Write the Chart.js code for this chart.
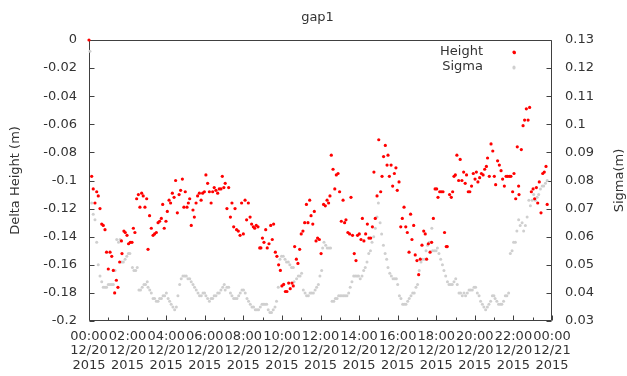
<!DOCTYPE html>
<html lang="en">
<head>
<meta charset="UTF-8">
<title>gap1</title>
<script src="https://cdn.jsdelivr.net/npm/chart.js"></script>
<style>
    html, body { margin: 0; padding: 0; background: #fff; }
    #wrap { width: 627px; height: 376px; }
</style>
</head>
<body>
<div id="wrap"><canvas id="gap1" width="627" height="376"></canvas></div>
<script>
// time of day in hours (12/20/2015), value in metres
var heightHours = [0,0.14,0.22,0.31,0.40,0.48,0.57,0.66,0.74,0.83,0.91,1.00,1.09,1.18,1.26,1.33,1.42,1.50,1.59,1.68,1.71,1.81,1.88,1.97,
    2.05,2.14,2.23,2.30,2.38,2.47,2.56,2.64,2.73,2.81,2.90,2.99,3.06,3.14,3.23,3.32,3.40,3.49,3.58,3.66,3.75,3.82,3.90,3.99,
    4.06,4.15,4.23,4.32,4.41,4.49,4.58,4.67,4.75,4.84,4.92,4.99,5.08,5.15,5.22,5.30,5.39,5.46,5.55,5.63,5.72,5.81,5.89,5.98,
    6.06,6.15,6.24,6.33,6.41,6.49,6.58,6.67,6.75,6.84,6.91,6.99,7.06,7.15,7.24,7.33,7.41,7.50,7.57,7.65,7.74,7.83,7.91,
    8.00,8.09,8.17,8.26,8.35,8.43,8.52,8.59,8.67,8.76,8.85,8.91,8.99,9.07,9.16,9.24,9.33,9.42,9.50,9.57,9.66,9.74,9.83,9.92,
    10.00,10.09,10.18,10.26,10.35,10.43,10.52,10.59,10.66,10.75,10.83,10.92,11.00,11.09,11.18,11.27,11.35,11.44,11.51,11.60,11.68,11.77,11.85,11.94,
    12.03,12.16,12.25,12.34,12.42,12.49,12.56,12.65,12.74,12.82,12.91,12.99,13.08,13.17,13.25,13.32,13.42,13.51,13.58,13.66,13.75,13.84,13.92,
    14.01,14.10,14.17,14.25,14.34,14.43,14.51,14.60,14.69,14.77,14.84,14.93,15.02,15.12,15.19,15.27,15.36,15.45,15.50,15.57,15.66,15.74,15.83,15.91,15.98,
    16.07,16.16,16.24,16.33,16.42,16.50,16.59,16.67,16.74,16.83,16.91,17.00,17.09,17.17,17.26,17.35,17.43,17.50,17.59,17.68,17.76,17.85,17.94,
    18.02,18.09,18.18,18.26,18.35,18.43,18.52,18.57,18.69,18.78,18.85,18.92,18.99,19.07,19.16,19.24,19.33,19.42,19.50,19.57,19.66,19.74,19.83,19.92,
    20.01,20.08,20.16,20.25,20.34,20.43,20.51,20.60,20.66,20.75,20.84,20.93,21.01,21.08,21.18,21.27,21.36,21.44,21.53,21.62,21.70,21.79,21.87,21.96,
    22.03,22.05,22.12,22.20,22.27,22.29,22.41,22.50,22.58,22.67,22.76,22.84,22.93,23.02,23.10,23.19,23.26,23.34,23.43,23.52,23.60,23.69,23.75];
var heightValues = [0,-0.097,-0.106,-0.116,-0.108,-0.111,-0.120,-0.131,-0.132,-0.135,-0.151,-0.163,-0.151,-0.154,-0.164,-0.180,-0.171,-0.176,-0.158,-0.143,-0.152,-0.136,-0.137,-0.139,
    -0.145,-0.144,-0.144,-0.134,-0.137,-0.113,-0.110,-0.119,-0.109,-0.111,-0.119,-0.113,-0.149,-0.125,-0.134,-0.139,-0.138,-0.137,-0.130,-0.129,-0.127,-0.117,-0.134,-0.129,
    -0.122,-0.114,-0.116,-0.109,-0.112,-0.100,-0.123,-0.110,-0.107,-0.099,-0.119,-0.108,-0.119,-0.116,-0.113,-0.132,-0.121,-0.126,-0.116,-0.111,-0.109,-0.114,-0.109,-0.108,
    -0.096,-0.102,-0.108,-0.116,-0.108,-0.105,-0.107,-0.109,-0.106,-0.106,-0.097,-0.105,-0.102,-0.120,-0.105,-0.126,-0.116,-0.133,-0.120,-0.135,-0.136,-0.139,-0.116,
    -0.138,-0.114,-0.128,-0.116,-0.126,-0.131,-0.133,-0.134,-0.132,-0.133,-0.148,-0.148,-0.141,-0.144,-0.135,-0.148,-0.145,-0.132,-0.142,-0.131,-0.151,-0.154,-0.160,-0.164,
    -0.175,-0.174,-0.179,-0.179,-0.173,-0.177,-0.173,-0.175,-0.147,-0.156,-0.159,-0.149,-0.138,-0.136,-0.130,-0.117,-0.130,-0.114,-0.125,-0.131,-0.122,-0.143,-0.141,-0.142,
    -0.152,-0.117,-0.118,-0.114,-0.116,-0.111,-0.082,-0.092,-0.106,-0.096,-0.095,-0.108,-0.129,-0.114,-0.130,-0.128,-0.137,-0.138,-0.112,-0.139,-0.152,-0.157,-0.139,
    -0.138,-0.142,-0.127,-0.143,-0.138,-0.131,-0.141,-0.141,-0.133,-0.094,-0.127,-0.111,-0.071,-0.108,-0.097,-0.083,-0.075,-0.089,-0.082,-0.097,-0.089,-0.104,-0.095,-0.091,-0.107,
    -0.101,-0.133,-0.127,-0.119,-0.133,-0.137,-0.151,-0.124,-0.142,-0.132,-0.153,-0.157,-0.167,-0.156,-0.146,-0.136,-0.138,-0.156,-0.145,-0.151,-0.144,-0.127,-0.106,
    -0.106,-0.112,-0.108,-0.108,-0.108,-0.137,-0.147,-0.147,-0.110,-0.112,-0.108,-0.097,-0.096,-0.082,-0.100,-0.085,-0.100,-0.094,-0.102,-0.096,-0.108,-0.108,-0.104,-0.095,
    -0.099,-0.094,-0.101,-0.098,-0.095,-0.096,-0.092,-0.090,-0.084,-0.097,-0.074,-0.079,-0.097,-0.103,-0.086,-0.089,-0.093,-0.099,-0.104,-0.097,-0.097,-0.097,-0.097,-0.108,
    -0.095,-0.009,-0.113,-0.076,-0.104,-0.110,-0.078,-0.061,-0.057,-0.049,-0.057,-0.048,-0.108,-0.106,-0.113,-0.105,-0.116,-0.101,-0.123,-0.095,-0.094,-0.090,-0.117];

var sigmaHours = [0.05,0.14,0.22,0.31,0.40,0.48,0.57,0.66,0.74,0.83,0.91,1.00,1.09,1.18,1.26,1.35,1.44,1.53,1.61,1.70,1.78,1.87,1.96,
    2.04,2.12,2.25,2.33,2.42,2.50,2.59,2.67,2.76,2.85,2.93,3.02,3.06,3.15,3.23,3.32,3.40,3.49,3.58,3.66,3.75,3.84,3.92,
    4.01,4.10,4.18,4.26,4.35,4.44,4.53,4.61,4.70,4.78,4.87,4.96,5.04,5.13,5.22,5.30,5.39,5.47,5.56,5.65,5.73,5.82,5.91,5.99,
    6.06,6.15,6.24,6.33,6.41,6.49,6.58,6.67,6.75,6.84,6.93,7.01,7.06,7.15,7.24,7.33,7.41,7.50,7.58,7.67,7.76,7.84,7.93,
    8.01,8.10,8.19,8.27,8.36,8.45,8.53,8.62,8.71,8.79,8.88,8.97,9.04,9.12,9.21,9.29,9.38,9.46,9.55,9.64,9.72,9.81,9.90,9.98,
    10.07,10.16,10.24,10.33,10.41,10.50,10.59,10.63,10.76,10.85,10.94,11.02,11.11,11.20,11.28,11.37,11.46,11.54,11.63,11.72,11.80,11.89,11.97,
    12.06,12.11,12.18,12.27,12.35,12.44,12.52,12.60,12.69,12.77,12.86,12.94,13.03,13.11,13.20,13.28,13.37,13.46,13.54,13.63,13.72,13.80,13.89,13.97,
    14.06,14.15,14.24,14.32,14.41,14.50,14.59,14.67,14.76,14.84,14.93,15.00,15.09,15.17,15.26,15.35,15.43,15.50,15.59,15.67,15.76,15.85,15.93,
    16.00,16.09,16.17,16.26,16.34,16.43,16.52,16.60,16.69,16.78,16.86,16.95,17.03,17.12,17.21,17.29,17.38,17.47,17.55,17.64,17.73,17.77,17.81,17.90,17.99,
    18.06,18.14,18.23,18.32,18.40,18.49,18.58,18.66,18.75,18.83,18.92,19.01,19.09,19.18,19.26,19.35,19.44,19.52,19.61,19.70,19.78,19.87,19.96,
    20.04,20.13,20.22,20.30,20.39,20.47,20.56,20.65,20.73,20.82,20.91,20.99,21.05,21.14,21.23,21.32,21.40,21.49,21.58,21.66,21.75,21.84,21.93,
    22.01,22.03,22.10,22.18,22.27,22.35,22.45,22.53,22.62,22.71,22.80,22.88,22.97,23.05,23.14,23.23,23.31,23.40,23.49,23.57,23.66,23.75];
var sigmaValues = [0.126,0.072,0.068,0.066,0.058,0.050,0.046,0.044,0.042,0.042,0.042,0.043,0.043,0.043,0.043,0.048,0.059,0.058,0.059,0.051,0.051,0.052,0.053,
    0.054,0.054,0.049,0.048,0.048,0.049,0.041,0.041,0.042,0.043,0.043,0.044,0.042,0.041,0.040,0.038,0.038,0.037,0.037,0.038,0.038,0.039,0.039,
    0.040,0.038,0.037,0.036,0.035,0.034,0.035,0.039,0.043,0.045,0.046,0.046,0.046,0.045,0.045,0.044,0.043,0.042,0.041,0.040,0.039,0.039,0.040,0.040,
    0.039,0.038,0.037,0.038,0.038,0.039,0.039,0.040,0.040,0.041,0.042,0.043,0.041,0.042,0.042,0.040,0.039,0.038,0.038,0.038,0.039,0.040,0.041,
    0.041,0.040,0.038,0.037,0.036,0.035,0.035,0.034,0.034,0.034,0.035,0.036,0.036,0.036,0.036,0.034,0.033,0.033,0.034,0.035,0.037,0.042,0.052,0.053,
    0.053,0.052,0.051,0.051,0.050,0.049,0.049,0.044,0.045,0.046,0.046,0.047,0.041,0.040,0.039,0.039,0.040,0.040,0.040,0.041,0.042,0.043,0.046,
    0.048,0.056,0.058,0.057,0.056,0.056,0.056,0.037,0.037,0.038,0.038,0.039,0.039,0.039,0.039,0.039,0.039,0.040,0.042,0.044,0.046,0.046,0.046,0.046,
    0.045,0.046,0.048,0.049,0.051,0.054,0.055,0.058,0.060,0.063,0.067,0.072,0.065,0.061,0.057,0.054,0.052,0.049,0.047,0.046,0.045,0.045,0.045,
    0.043,0.039,0.038,0.036,0.036,0.036,0.037,0.038,0.039,0.040,0.040,0.042,0.043,0.048,0.051,0.052,0.052,0.055,0.057,0.058,0.058,0.063,0.055,0.055,0.055,
    0.056,0.054,0.052,0.050,0.048,0.046,0.044,0.043,0.043,0.043,0.044,0.045,0.043,0.040,0.040,0.039,0.040,0.039,0.040,0.041,0.041,0.041,0.042,
    0.042,0.040,0.039,0.037,0.036,0.035,0.034,0.035,0.036,0.037,0.039,0.039,0.038,0.037,0.036,0.036,0.036,0.037,0.039,0.039,0.040,0.054,0.055,
    0.058,0.120,0.058,0.062,0.066,0.064,0.065,0.062,0.064,0.067,0.073,0.071,0.073,0.075,0.073,0.074,0.075,0.077,0.078,0.078,0.079,0.080];

var xTickHours = [0,2,4,6,8,10,12,14,16,18,20,22,24];
var xTickTimes = ['00:00','02:00','04:00','06:00','08:00','10:00','12:00','14:00','16:00','18:00','20:00','22:00','00:00'];
var xTickDates = ['12/20','12/20','12/20','12/20','12/20','12/20','12/20','12/20','12/20','12/20','12/20','12/20','12/21'];
var xTickYear = '2015';

function toPoints(xs, ys) {
    return xs.map(function (x, i) { return { x: x, y: ys[i] }; });
}

var font = { family: 'DejaVu Sans', size: 13 };
var textColor = '#333333';
var frameColor = '#404040';

// frame, inward tick marks, right axis title (reads bottom-to-top) and gnuplot style key
var gnuplotLook = {
    id: 'gnuplotLook',
    beforeDatasetsDraw: function (chart) {
        var ctx = chart.ctx, a = chart.chartArea;
        var L = Math.round(a.left) + 0.5, R = Math.round(a.right) - 0.5;
        var T = Math.round(a.top) + 0.5, B = Math.round(a.bottom) - 0.5;
        ctx.save();
        ctx.strokeStyle = frameColor;
        ctx.lineWidth = 1;
        ctx.beginPath();
        ctx.rect(L, T, R - L, B - T);
        chart.scales.y.ticks.forEach(function (t) {
            var p = Math.round(chart.scales.y.getPixelForValue(t.value)) + 0.5;
            ctx.moveTo(L, p); ctx.lineTo(L + 5, p);
        });
        chart.scales.y1.ticks.forEach(function (t) {
            var p = Math.round(chart.scales.y1.getPixelForValue(t.value)) + 0.5;
            ctx.moveTo(R, p); ctx.lineTo(R - 5, p);
        });
        for (var h = 0; h <= 24; h++) {
            var px = Math.round(chart.scales.x.getPixelForValue(h)) + 0.5;
            ctx.moveTo(px, B); ctx.lineTo(px, B - (h % 2 === 0 ? 5 : 3));
        }
        ctx.stroke();
        ctx.restore();
    },
    afterDraw: function (chart) {
        var ctx = chart.ctx, a = chart.chartArea;
        ctx.save();
        ctx.font = font.size + 'px ' + font.family;
        ctx.fillStyle = textColor;
        ctx.textBaseline = 'middle';
        ctx.textAlign = 'center';
        ctx.translate(620, (a.top + a.bottom) / 2);
        ctx.rotate(-Math.PI / 2);
        ctx.fillText('Sigma(m)', 0, 0);
        ctx.restore();

        ctx.save();
        ctx.font = font.size + 'px ' + font.family;
        ctx.textBaseline = 'middle';
        ctx.textAlign = 'right';
        chart.data.datasets.forEach(function (ds, i) {
            var y = a.top + 12 + i * 15;
            ctx.fillStyle = textColor;
            ctx.fillText(ds.label, 483, y);
            ctx.fillStyle = ds.backgroundColor;
            ctx.beginPath();
            ctx.arc(514, y, ds.pointRadius, 0, Math.PI * 2);
            ctx.fill();
        });
        ctx.restore();
    }
};

var ctx = document.getElementById('gap1').getContext('2d');
var chart = new Chart(ctx, {
    type: 'scatter',
    data: {
        datasets: [{
            label: 'Height',
            data: toPoints(heightHours, heightValues),
            yAxisID: 'y',
            backgroundColor: '#ff0000',
            borderWidth: 0,
            pointRadius: 1.6,
            clip: false
        }, {
            label: 'Sigma',
            data: toPoints(sigmaHours, sigmaValues),
            yAxisID: 'y1',
            backgroundColor: '#cfcfcf',
            borderWidth: 0,
            pointRadius: 1.5,
            clip: false
        }]
    },
    options: {
        responsive: false,
        animation: false,
        devicePixelRatio: 1,
        layout: { padding: { left: 8, right: 0, top: 0, bottom: 0 } },
        plugins: {
            legend: { display: false },
            tooltip: { enabled: false },
            title: {
                display: true,
                text: 'gap1',
                color: textColor,
                font: { family: font.family, size: 13, weight: 'normal' },
                padding: { top: 10, bottom: 14.4 }
            }
        },
        scales: {
            x: {
                type: 'linear',
                min: 0,
                max: 24,
                afterFit: function (s) { s.height = 55; },
                grid: { display: false, drawTicks: false },
                border: { display: false },
                ticks: {
                    stepSize: 2,
                    autoSkip: false,
                    maxTicksLimit: 30,
                    maxRotation: 0,
                    minRotation: 0,
                    padding: 8,
                    color: textColor,
                    font: { family: font.family, size: 13, lineHeight: 1.13 },
                    callback: function (v) {
                        var i = xTickHours.indexOf(v);
                        return i < 0 ? '' : [xTickTimes[i], xTickDates[i], xTickYear];
                    }
                }
            },
            y: {
                position: 'left',
                min: -0.2,
                max: 0,
                afterFit: function (s) { s.width = 81; },
                grid: { display: false, drawTicks: false },
                border: { display: false },
                title: {
                    display: true,
                    text: 'Delta Height (m)',
                    color: textColor,
                    font: font,
                    padding: 0
                },
                ticks: {
                    stepSize: 0.02,
                    maxTicksLimit: 30,
                    padding: 12,
                    color: textColor,
                    font: font,
                    callback: function (v) { return String(parseFloat(v.toFixed(2))); }
                }
            },
            y1: {
                position: 'right',
                min: 0.03,
                max: 0.13,
                afterFit: function (s) { s.width = 75; },
                grid: { display: false, drawTicks: false },
                border: { display: false },
                ticks: {
                    stepSize: 0.01,
                    maxTicksLimit: 30,
                    padding: 13,
                    color: textColor,
                    font: font,
                    callback: function (v) { return String(parseFloat(v.toFixed(2))); }
                }
            }
        }
    },
    plugins: [gnuplotLook]
});
</script>
</body>
</html>
